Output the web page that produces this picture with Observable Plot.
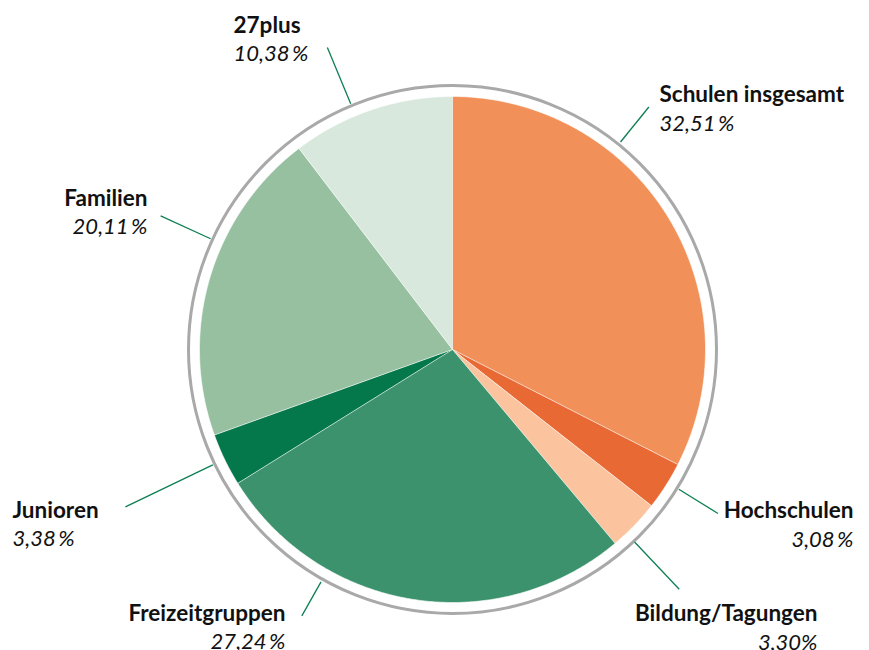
<!DOCTYPE html>
<html><head><meta charset="utf-8">
<script src="https://cdn.jsdelivr.net/npm/d3@7"></script>
<script src="https://cdn.jsdelivr.net/npm/@observablehq/plot@0.6"></script>
<style>body{margin:0;background:#fff}</style>
</head><body><div id="chart"></div>
<script>
// ---- data ----
const categories = ["Schulen insgesamt","Hochschulen","Bildung/Tagungen","Freizeitgruppen","Junioren","Familien","27plus"];
const shares = [32.51, 3.08, 3.30, 27.24, 3.38, 20.11, 10.38];
const shareLabels = ["32,51\u2009%","3,08\u2009%","3,30%","27,24\u2009%","3,38\u2009%","20,11\u2009%","10,38\u2009%"];
const colors = ["#f19058","#e96934","#fbc49e","#3b926c","#04774b","#96c0a0","#d8e8dc"];

// ---- layout (pixels) ----
const W = 869, H = 650, cx = 452, cy = 349, R = 253, ringR = 264;
// leader lines: angle (deg clockwise from top), inner radius, outer radius
const leaderAngle = [39, 121.7, 136.6, 209.5, 244.3, 294.6, 337.5];
const leaderR1 = [267, 266, 265, 267, 266, 266, 266];
const leaderR2 = [312, 312, 330, 306, 363, 321, 327];
// label anchors: x, baseline of name, baseline of share, anchor
const labelX = [659, 853, 817, 285, 12, 147, 233];
const labelY1 = [101, 517, 620, 620, 517, 205, 32];
const labelY2 = [130, 546, 649, 648, 545, 233, 60];
const labelAnchor = ["start","end","end","end","start","end","start"];

// ---- build ----
const rad = d => d * Math.PI / 180;
const pie = d3.pie().sort(null).value(d => d)(shares);
const wedgePts = [];
pie.forEach((p, i) => {
  wedgePts.push({cat: categories[i], x: 0, y: 0});
  const a0 = p.startAngle, a1 = p.endAngle;
  const n = Math.max(2, Math.ceil((a1 - a0) / rad(0.5)));
  for (let k = 0; k <= n; k++) {
    const a = a0 + (a1 - a0) * k / n;
    wedgePts.push({cat: categories[i], x: R * Math.sin(a), y: -R * Math.cos(a)});
  }
});
const leaders = categories.map((c, i) => ({
  cat: c,
  x1: leaderR1[i] * Math.sin(rad(leaderAngle[i])), y1: -leaderR1[i] * Math.cos(rad(leaderAngle[i])),
  x2: leaderR2[i] * Math.sin(rad(leaderAngle[i])), y2: -leaderR2[i] * Math.cos(rad(leaderAngle[i]))
}));
const labels = categories.map((c, i) => ({
  name: c, share: shareLabels[i], x: labelX[i] - cx, y1: labelY1[i] - cy, y2: labelY2[i] - cy, anchor: labelAnchor[i]
}));

const textMarks = [];
for (const anchor of ["start", "end"]) {
  const sub = labels.filter(d => d.anchor === anchor);
  textMarks.push(Plot.text(sub, {x: "x", y: "y1", text: "name", textAnchor: anchor, lineAnchor: "bottom",
    fontWeight: "bold", fontSize: 22.5, fill: "#111"}));
  textMarks.push(Plot.text(sub, {x: "x", y: "y2", text: "share", textAnchor: anchor, lineAnchor: "bottom",
    fontStyle: "italic", fontSize: 22, fill: "#111"}));
}

const chart = Plot.plot({
  width: W, height: H,
  margin: 0,
  x: {domain: [-cx, W - cx], range: [0, W], axis: null},
  y: {domain: [-cy, H - cy], range: [0, H], axis: null},
  color: {domain: categories, range: colors},
  style: {fontFamily: "Lato, sans-serif", background: "#fff", overflow: "visible"},
  marks: [
    Plot.line(wedgePts, {x: "x", y: "y", z: "cat", fill: "cat", stroke: "white", strokeWidth: 0.6, curve: "linear"}),
    Plot.dot([{x: 0, y: 0}], {x: "x", y: "y", r: ringR, fill: "none", stroke: "#a9a9a9", strokeWidth: 3}),
    Plot.link(leaders, {x1: "x1", y1: "y1", x2: "x2", y2: "y2", stroke: "#0d7f52", strokeWidth: 1.3}),
    ...textMarks
  ]
});
document.getElementById("chart").appendChild(chart);
</script>
</body></html>
